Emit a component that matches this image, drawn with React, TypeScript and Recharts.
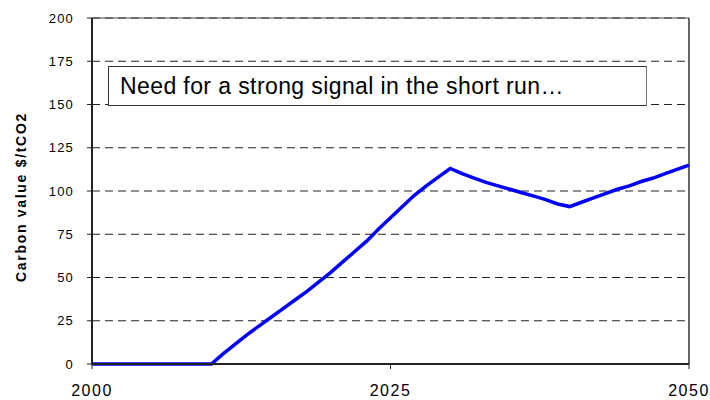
import React from 'react';
import { LineChart, Line, XAxis, YAxis, CartesianGrid, ReferenceLine, Label } from 'recharts';

// years and carbon value ($/tCO2)
const years = [
  2000, 2001, 2002, 2003, 2004, 2005, 2006, 2007, 2008, 2009,
  2010, 2011, 2012, 2013, 2014, 2015, 2016, 2017, 2018, 2019,
  2020, 2021, 2022, 2023, 2024, 2025, 2026, 2027, 2028, 2029,
  2030, 2031, 2032, 2033, 2034, 2035, 2036, 2037, 2038, 2039,
  2040, 2041, 2042, 2043, 2044, 2045, 2046, 2047, 2048, 2049, 2050,
];
const carbonValues = [
  0, 0, 0, 0, 0, 0, 0, 0, 0, 0,
  0, 6, 11.5, 17, 22, 27, 32, 37, 42, 47.5,
  53, 59, 65, 71, 78, 84.5, 91, 97.5, 103, 108,
  113, 110, 107.5, 105, 103, 101, 99, 97, 95, 92.5,
  91, 93.5, 96, 98.5, 101, 103, 105.5, 107.5, 110, 112.5, 115,
];
const xTicks = [2000, 2025, 2050];
const yTicks = [0, 25, 50, 75, 100, 125, 150, 175, 200];

const yLabel = 'Carbon value $/tCO2';
const note = 'Need for a strong signal in the short run…';

const data = years.map((year, i) => ({ year, value: carbonValues[i] }));

const FONT = '"Liberation Sans", Arial, sans-serif';

const YLabel = () => (
  <text
    x={26}
    y={197}
    transform="rotate(-90, 26, 197)"
    textAnchor="middle"
    fontFamily={FONT}
    fontWeight="bold"
    fontSize={14}
    letterSpacing={1.7}
    fill="#000"
  >
    {yLabel}
  </text>
);

export default function App() {
  return (
    <div style={{ position: 'absolute', left: 0, top: 0, width: 710, height: 400, background: '#fff' }}>
      <LineChart width={710} height={400} data={data} margin={{ top: 18, right: 21, left: 0, bottom: 0 }}>
        <CartesianGrid vertical={false} stroke="#222" strokeDasharray="8 5" />
        <XAxis
          dataKey="year"
          type="number"
          domain={[2000, 2050]}
          ticks={xTicks}
          height={36}
          axisLine={{ stroke: '#222', strokeWidth: 2 }}
          tickLine={{ stroke: '#222' }}
          tickSize={5}
          tickMargin={16}
          tick={{ fill: '#000', fontSize: 16, fontFamily: FONT, letterSpacing: 1.5 }}
        />
        <YAxis
          type="number"
          domain={[0, 200]}
          ticks={yTicks}
          width={92}
          interval={0}
          axisLine={{ stroke: '#222', strokeWidth: 2 }}
          tickLine={{ stroke: '#222' }}
          tickSize={5}
          tickMargin={13}
          tick={{ fill: '#000', fontSize: 13, fontFamily: FONT, letterSpacing: 1.2 }}
        >
          <Label content={<YLabel />} />
        </YAxis>
        <ReferenceLine y={200} stroke="#444" strokeWidth={1} />
        <ReferenceLine x={2050} stroke="#333" strokeWidth={1.5} />
        <Line
          type="linear"
          dataKey="value"
          stroke="#0000ff"
          strokeWidth={3.5}
          dot={false}
          isAnimationActive={false}
        />
      </LineChart>
      <div
        style={{
          position: 'absolute',
          left: 108,
          top: 66,
          width: 537,
          height: 38,
          border: '1px solid #333',
          borderRightColor: '#777',
          background: '#fff',
          boxSizing: 'content-box',
          fontFamily: FONT,
          fontSize: 23,
          letterSpacing: 0.4,
          lineHeight: '38px',
          paddingLeft: 0,
        }}
      >
        <span style={{ marginLeft: 11 }}>{note}</span>
      </div>
    </div>
  );
}
